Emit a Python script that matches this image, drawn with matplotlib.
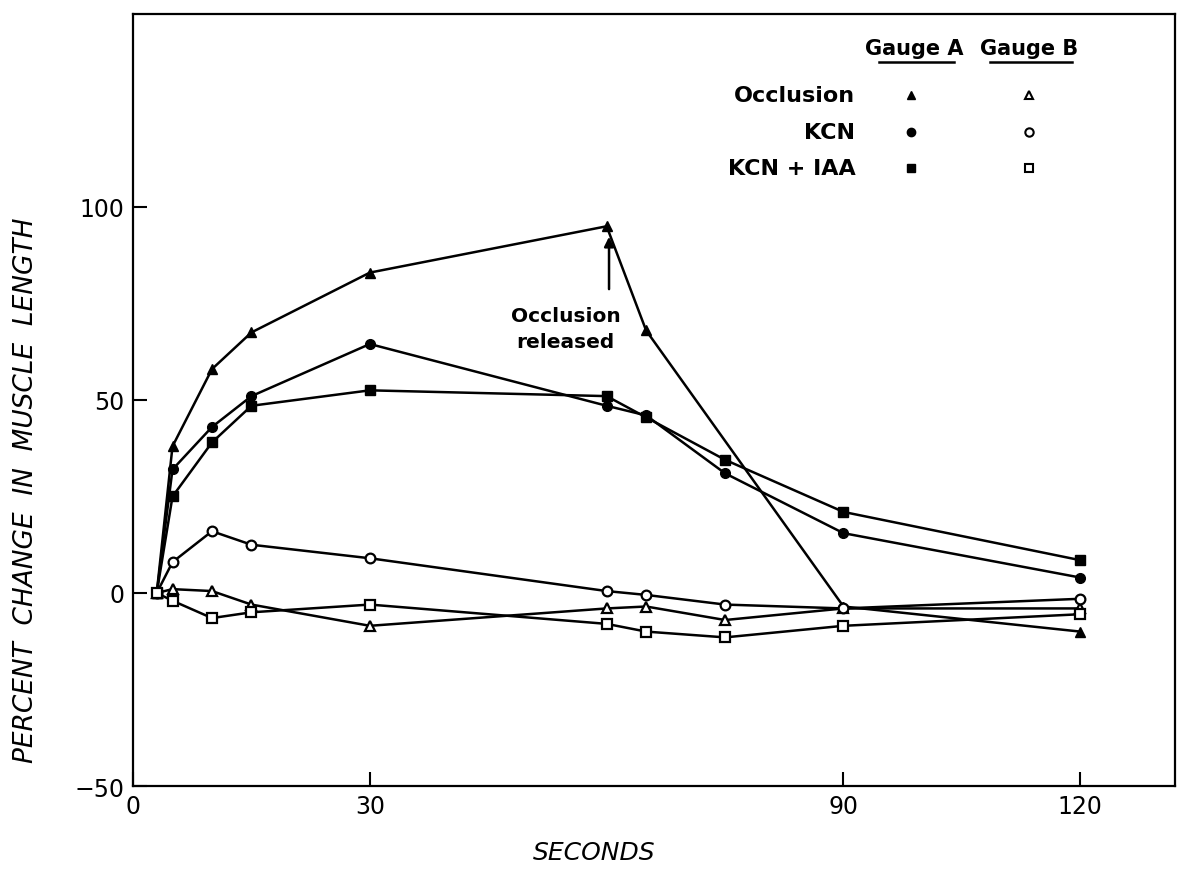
import matplotlib.pyplot as plt
import numpy as np

# sample times (seconds)
t = [3, 5, 10, 15, 30, 60, 65, 75, 90, 120]
t_occl_a = [3, 5, 10, 15, 30, 60, 65, 90, 120]

# gauge A (filled markers)
occl_a = [0, 38, 58, 67.5, 83, 95, 68, -3.5, -10]
kcn_a = [0, 32, 43, 51, 64.5, 48.5, 46, 31, 15.5, 4]
kcn_iaa_a = [0, 25, 39, 48.5, 52.5, 51, 45.5, 34.5, 21, 8.5]

# gauge B (open markers)
occl_b = [0, 1, 0.5, -3, -8.5, -4, -3.5, -7, -4, -4]
kcn_b = [0, 8, 16, 12.5, 9, 0.5, -0.5, -3, -4, -1.5]
kcn_iaa_b = [0, -2, -6.5, -5, -3, -8, -10, -11.5, -8.5, -5.5]

rows = ['Occlusion', 'KCN', 'KCN + IAA']
row_markers = ['^', 'o', 's']

###################################################################################################

fig = plt.figure(figsize=(11.9, 8.7), dpi=100)
ax = fig.add_axes([0.1118, 0.0954, 0.8756, 0.8874])

lw = 1.8
ms = 7
ax.plot(t_occl_a, occl_a, '-^', color='black', lw=lw, ms=ms)
ax.plot(t, kcn_a, '-o', color='black', lw=lw, ms=ms)
ax.plot(t, kcn_iaa_a, '-s', color='black', lw=lw, ms=ms)
for ys, m in zip([occl_b, kcn_b, kcn_iaa_b], row_markers):
    ax.plot(t, ys, '-' + m, color='black', lw=lw, ms=ms,
            markerfacecolor='white', markeredgewidth=1.6)

ax.set_xlim(0, 132)
ax.set_ylim(-50, 150)
ax.set_xticks([0, 30, 90, 120])
ax.set_yticks([-50, 0, 50, 100])
ax.tick_params(direction='in', length=10, width=1.5, labelsize=17, pad=6)
for s in ax.spines.values():
    s.set_linewidth(1.6)

ax.set_xlabel('SECONDS', fontsize=18, style='italic')
ax.xaxis.set_label_coords(0.443, -0.07)
ax.set_ylabel('PERCENT  CHANGE  IN  MUSCLE  LENGTH', fontsize=19, style='italic')
ax.yaxis.set_label_coords(-0.09, 0.385)

# annotation
ax.annotate('', xy=(60.3, 93), xytext=(60.3, 78),
            arrowprops=dict(arrowstyle='-|>', color='black', lw=1.8, mutation_scale=14))
ax.text(54.8, 68.5, 'Occlusion\nreleased', ha='center', va='center', fontsize=14.5,
        fontweight='bold', linespacing=1.45)

# legend table
ax.text(99, 138.5, 'Gauge A', ha='center', va='bottom', fontsize=15, fontweight='bold')
ax.text(113.5, 138.5, 'Gauge B', ha='center', va='bottom', fontsize=15, fontweight='bold')
ax.plot([94.5, 104], [137.5, 137.5], color='black', lw=1.8)
ax.plot([108.5, 119], [137.5, 137.5], color='black', lw=1.8)
for i, (lab, m) in enumerate(zip(rows, row_markers)):
    yy = 129 - i * 9.5
    ax.text(91.5, yy, lab, ha='right', va='center', fontsize=16, fontweight='bold')
    ax.plot(98.5, yy, m, color='black', ms=6)
    ax.plot(113.5, yy, m, color='black', ms=6, markerfacecolor='white', markeredgewidth=1.5)

fig.savefig('out.png', dpi=100)
